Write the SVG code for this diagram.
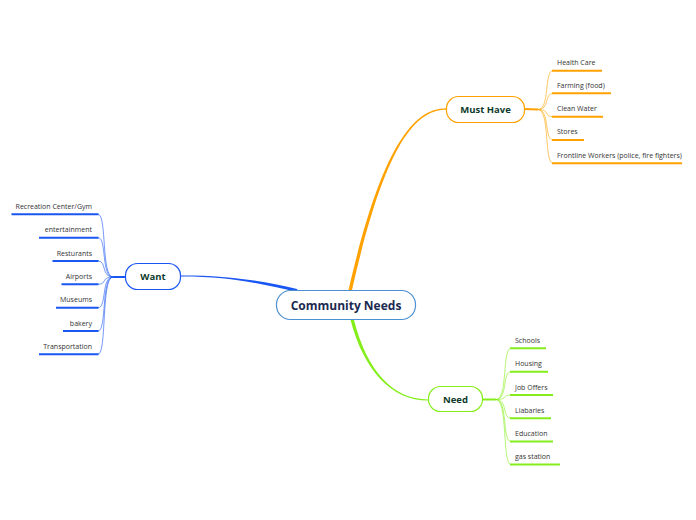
<svg xmlns="http://www.w3.org/2000/svg" width="696" height="520" viewBox="0 0 696 520">
<style>
.t{font-family:"Open Sans","Noto Sans","Liberation Sans",sans-serif;font-size:7px;fill:#333}
.n{font-family:"Open Sans","Noto Sans","Liberation Sans",sans-serif;font-size:9.5px;font-weight:bold;fill:#0e3b2c;text-anchor:middle}
.o{stroke:#ffa200}
.b{stroke:#1a56f2}
.g{stroke:#84ee1a}
.ul{fill:none;stroke-width:2}
.cv{fill:none;stroke-width:0.8;opacity:0.75}
</style>
<rect width="696" height="520" fill="#fff"/>
<g id="connectors">
<path d="M348.5,290 C378.5,160 409,108.3 446,108.3 L446,109.7 C410,109.7 381.5,160 352,290 Z" fill="#ffa200"/>
<path d="M181,275.4 C232,275.4 262,281 297,289 L299,292.5 C262,284 232,276.6 181,276.6 Z" fill="#1a56f2"/>
<path d="M350.5,320 C364,371 392,400.6 428,400.6 L428,399.4 C393,399.4 367,371 354,320 Z" fill="#84ee1a"/>
</g>
<g id="central">
<rect x="276.5" y="290.5" width="139" height="29" rx="14" fill="#fff" stroke="#4d90d2" stroke-width="1.2"/>
<text x="346" y="309.5" style="font-family:'Open Sans','Noto Sans','Liberation Sans',sans-serif;font-size:12px;font-weight:bold;fill:#1b2a50;text-anchor:middle">Community Needs</text>
</g>
<g id="must-have">
<path class="o" d="M524,109 L538,109.5" stroke-width="2" fill="none"/>
<g class="o">
<path class="cv" d="M538,109.5 C550,109.5 544,70.7 553,70.7"/>
<path class="cv" d="M538,109.5 C550,109.5 544,93.3 553,93.3"/>
<path class="cv" d="M538,109.5 C550,109.5 544,116.7 553,116.7"/>
<path class="cv" d="M538,109.5 C550,109.5 544,140 553,140"/>
<path class="cv" d="M538,109.5 C550,109.5 544,163.3 553,163.3"/>
<path class="ul" d="M552,70.7 H602"/>
<path class="ul" d="M552,93.3 H611"/>
<path class="ul" d="M552,116.7 H603"/>
<path class="ul" d="M552,140 H584"/>
<path class="ul" d="M552,163.3 H682"/>
</g>
<rect x="446.5" y="96.5" width="78" height="26" rx="12" fill="#fff" stroke="#ffa200" stroke-width="1.2"/>
<text class="n" x="485.5" y="112.5">Must Have</text>
<text class="t" x="557" y="65">Health Care</text>
<text class="t" x="557" y="88">Farming (food)</text>
<text class="t" x="557" y="111">Clean Water</text>
<text class="t" x="557" y="134.3">Stores</text>
<text class="t" x="557" y="157.6">Frontline Workers (police, fire fighters)</text>
</g>
<g id="want">
<path class="b" d="M125,277 L113,277" stroke-width="2" fill="none"/>
<g class="b">
<path class="cv" d="M113,277 C101,277 107,214.3 98,214.3"/>
<path class="cv" d="M113,277 C101,277 107,237.7 98,237.7"/>
<path class="cv" d="M113,277 C101,277 107,261 98,261"/>
<path class="cv" d="M113,277 C101,277 107,284.3 98,284.3"/>
<path class="cv" d="M113,277 C101,277 107,307.7 98,307.7"/>
<path class="cv" d="M113,277 C101,277 107,331 98,331"/>
<path class="cv" d="M113,277 C101,277 107,354.3 98,354.3"/>
<path class="ul" d="M11.5,214.3 H98.5"/>
<path class="ul" d="M39,237.7 H98.5"/>
<path class="ul" d="M52.5,261 H98.5"/>
<path class="ul" d="M61.5,284.3 H98.5"/>
<path class="ul" d="M56,307.7 H98.5"/>
<path class="ul" d="M63,331 H98.5"/>
<path class="ul" d="M39,354.3 H98.5"/>
</g>
<rect x="125.5" y="263.5" width="55" height="26" rx="12" fill="#fff" stroke="#1a56f2" stroke-width="1.2"/>
<text class="n" x="153" y="280">Want</text>
<g class="t" style="text-anchor:end">
<text x="92" y="209">Recreation Center/Gym</text>
<text x="92" y="232.4">entertainment</text>
<text x="92" y="255.7">Resturants</text>
<text x="92" y="279">Airports</text>
<text x="92" y="302.4">Museums</text>
<text x="92" y="325.7">bakery</text>
<text x="92" y="349">Transportation</text>
</g>
</g>
<g id="need">
<path class="g" d="M482,399.5 L496,399.5" stroke-width="2" fill="none"/>
<g class="g">
<path class="cv" d="M496,399.5 C508,399.5 502,348.3 511,348.3"/>
<path class="cv" d="M496,399.5 C508,399.5 502,371.7 511,371.7"/>
<path class="cv" d="M496,399.5 C508,399.5 502,395 511,395"/>
<path class="cv" d="M496,399.5 C508,399.5 502,418.3 511,418.3"/>
<path class="cv" d="M496,399.5 C508,399.5 502,441.6 511,441.6"/>
<path class="cv" d="M496,399.5 C508,399.5 502,464.6 511,464.6"/>
<path class="ul" d="M510,348.3 H546"/>
<path class="ul" d="M510,371.7 H548"/>
<path class="ul" d="M510,395 H553"/>
<path class="ul" d="M510,418.3 H551"/>
<path class="ul" d="M510,441.6 H553"/>
<path class="ul" d="M510,464.6 H560"/>
</g>
<rect x="428.5" y="386.5" width="54" height="25" rx="12" fill="#fff" stroke="#84ee1a" stroke-width="1.2"/>
<text class="n" x="455.5" y="403">Need</text>
<text class="t" x="515" y="343">Schools</text>
<text class="t" x="515" y="366.3">Housing</text>
<text class="t" x="515" y="389.6">Job Offers</text>
<text class="t" x="515" y="413">Liabaries</text>
<text class="t" x="515" y="436.3">Education</text>
<text class="t" x="515" y="459.3">gas  station</text>
</g>
</svg>
